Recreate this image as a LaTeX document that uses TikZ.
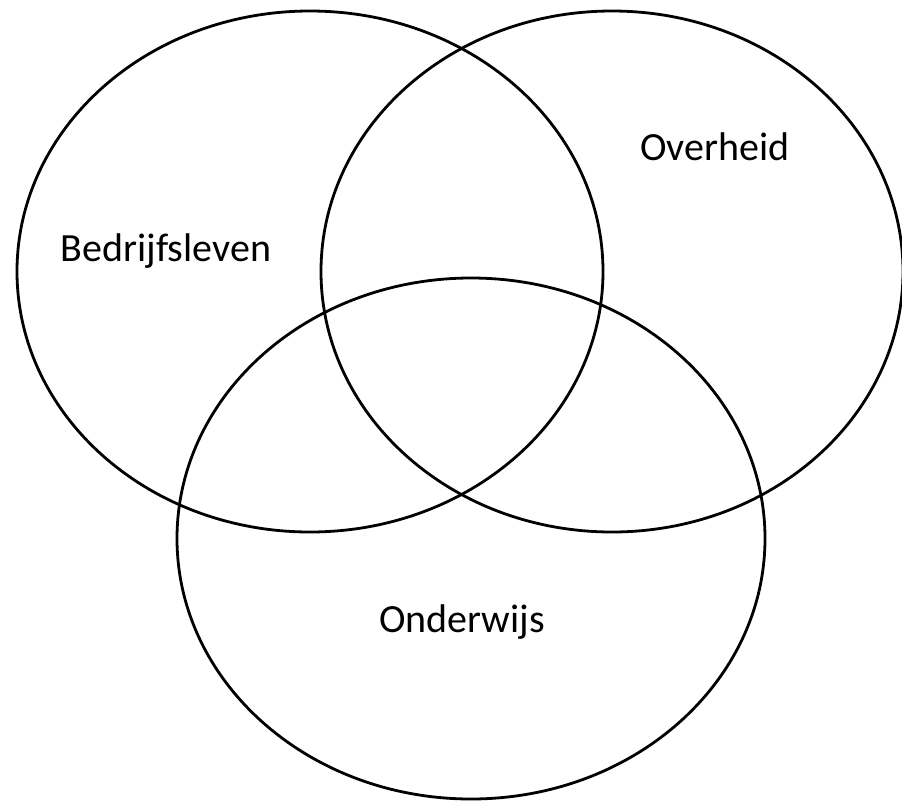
\documentclass[tikz,border=0pt]{standalone}
\usepackage{fontspec}
\setmainfont{Carlito}
\begin{document}
\begin{tikzpicture}[x=1pt,y=-1pt,
  ring/.style={draw=black,line width=2.8pt},
  label/.style={font=\fontsize{40}{48}\selectfont,text=black,inner sep=0pt,anchor=base}]
\useasboundingbox (0,0) rectangle (902,801);
\fill[white] (0,0) rectangle (902,801);
\coordinate (cl) at (310,271.5);
\coordinate (cr) at (612,271.5);
\coordinate (cb) at (471,538.5);
\draw[ring] (cl) ellipse [x radius=293, y radius=260.5];
\draw[ring] (cr) ellipse [x radius=291, y radius=260.5];
\draw[ring] (cb) ellipse [x radius=294, y radius=260.5];
\node[label] (bedrijf) at (166,261) {Bedrijfsleven};
\node[label] (overheid) at (715,160) {Overheid};
\node[label] (onderwijs) at (462,632) {Onderwijs};
\end{tikzpicture}
\end{document}
